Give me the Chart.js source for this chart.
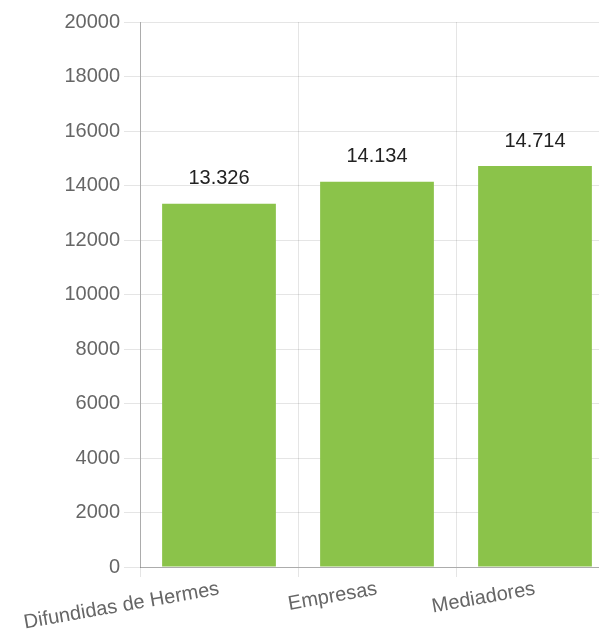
<!DOCTYPE html>
<html>
<head>
<meta charset="utf-8">
<script src="https://cdn.jsdelivr.net/npm/chart.js@4/dist/chart.umd.min.js"></script>
<style>
  html, body { margin: 0; padding: 0; background: #fff; overflow: hidden; }
  #wrap { position: relative; width: 620px; height: 635px; }
</style>
</head>
<body>
<div id="wrap"><canvas id="myChart"></canvas></div>
<script>
const categories = ['Difundidas de Hermes', 'Empresas', 'Mediadores'];
const totals = [13326, 14134, 14714];
const yTicks = [0, 2000, 4000, 6000, 8000, 10000, 12000, 14000, 16000, 18000, 20000];

const barGreen = '#8bc34a';
const fontFamily = '"Liberation Sans", Arial, sans-serif';

// thousands with a dot, e.g. 13.326
function fmt(n) {
    return String(n).replace(/\B(?=(\d{3})+(?!\d))/g, '.');
}

// writes the value above each bar
const valueLabels = {
    id: 'valueLabels',
    afterDatasetsDraw(chart) {
        const c = chart.ctx;
        const meta = chart.getDatasetMeta(0);
        c.save();
        c.font = '20px ' + fontFamily;
        c.fillStyle = '#222';
        c.textAlign = 'center';
        c.textBaseline = 'bottom';
        meta.data.forEach((bar, i) => {
            c.fillText(fmt(totals[i]), bar.x, bar.y - 15);
        });
        c.restore();
    }
};

const ctx = document.getElementById('myChart');

const myChart = new Chart(ctx, {
    type: 'bar',
    data: {
        labels: categories,
        datasets: [{
            data: totals,
            backgroundColor: barGreen,
            borderWidth: 0
        }]
    },
    options: {
        responsive: true,
        maintainAspectRatio: false,
        animation: false,
        layout: { padding: { left: 0, right: 6, top: 22, bottom: 0 } },
        plugins: {
            legend: { display: false },
            tooltip: { enabled: false }
        },
        scales: {
            x: {
                grid: { color: 'rgba(0,0,0,0.1)', offset: true, tickLength: 10 },
                border: { color: 'rgba(0,0,0,0.25)' },
                ticks: {
                    color: '#666',
                    font: { size: 20, family: fontFamily },
                    minRotation: 10,
                    maxRotation: 10,
                    autoSkip: false,
                    padding: 0
                }
            },
            y: {
                min: 0,
                max: 20000,
                afterBuildTicks(axis) {
                    axis.ticks = yTicks.map(v => ({ value: v }));
                },
                afterFit(axis) {
                    axis.width = 140;
                },
                grid: { color: 'rgba(0,0,0,0.1)', tickLength: 16 },
                border: { color: 'rgba(0,0,0,0.25)' },
                ticks: {
                    color: '#666',
                    font: { size: 20, family: fontFamily },
                    padding: 4,
                    callback: v => String(v)
                }
            }
        }
    },
    plugins: [valueLabels]
});
</script>
</body>
</html>
